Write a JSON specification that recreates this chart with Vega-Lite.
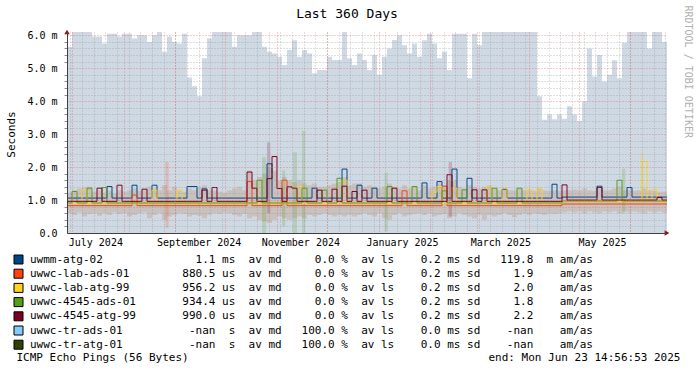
{
  "$schema": "https://vega.github.io/schema/vega-lite/v6.json",
  "width": 600,
  "height": 201,
  "autosize": {"type": "none"},
  "padding": {"left": 67, "top": 32, "right": 30, "bottom": 138},
  "background": "white",
  "title": {"text": "Last 360 Days", "font": "DejaVu Sans Mono", "fontSize": 13, "fontWeight": "normal", "color": "#000", "anchor": "middle", "frame": "group", "dx": -20, "offset": 0, "dy": 16},
  "config": {
    "view": {"stroke": null},
    "font": "DejaVu Sans Mono",
    "axis": {"labelFont": "DejaVu Sans Mono", "labelFontSize": 10, "labelColor": "#000", "titleFont": "DejaVu Sans Mono", "titleFontWeight": "normal", "titleColor": "#000", "titleFontSize": 11, "domainColor": "#404040", "tickColor": "#8f8f8f"}
  },
  "datasets": {
    "main": [
      {"t":"2024-06-28T00:00","bg":5.65,"lo":0.6,"hi":1.22,"a":1.06,"b":0.83,"c":0.89,"d":0.91,"e":0.96},
      {"t":"2024-07-01T00:00","bg":6.1,"lo":0.55,"hi":1.3,"a":1.06,"b":0.83,"c":0.89,"d":1.26,"e":0.96},
      {"t":"2024-07-04T00:00","bg":6.1,"lo":0.62,"hi":1.35,"a":1.06,"b":0.83,"c":0.89,"d":0.91,"e":0.96},
      {"t":"2024-07-07T00:00","bg":6.1,"lo":0.5,"hi":1.38,"a":1.06,"b":0.83,"c":1.31,"d":0.91,"e":0.96},
      {"t":"2024-07-10T00:00","bg":6.1,"lo":0.58,"hi":1.4,"a":1.06,"b":0.83,"c":0.89,"d":1.36,"e":0.96},
      {"t":"2024-07-13T00:00","bg":5.96,"lo":0.6,"hi":1.25,"a":1.06,"b":0.83,"c":0.89,"d":0.91,"e":0.96},
      {"t":"2024-07-16T00:00","bg":5.96,"lo":0.52,"hi":1.3,"a":1.06,"b":0.83,"c":0.89,"d":0.91,"e":1.36},
      {"t":"2024-07-19T00:00","bg":5.75,"lo":0.6,"hi":1.22,"a":1.06,"b":0.83,"c":0.89,"d":1.38,"e":0.96},
      {"t":"2024-07-22T00:00","bg":6.05,"lo":0.55,"hi":1.28,"a":1.41,"b":0.83,"c":0.89,"d":0.91,"e":0.96},
      {"t":"2024-07-25T00:00","bg":6.05,"lo":0.62,"hi":1.2,"a":1.06,"b":0.83,"c":0.89,"d":0.91,"e":0.96},
      {"t":"2024-07-28T00:00","bg":5.96,"lo":0.58,"hi":1.3,"a":1.06,"b":0.83,"c":0.89,"d":0.91,"e":1.45},
      {"t":"2024-07-31T00:00","bg":6.05,"lo":0.6,"hi":1.25,"a":1.06,"b":0.83,"c":0.89,"d":0.91,"e":0.96},
      {"t":"2024-08-03T00:00","bg":6.05,"lo":0.5,"hi":1.3,"a":1.06,"b":0.83,"c":0.89,"d":0.91,"e":0.96},
      {"t":"2024-08-06T00:00","bg":5.9,"lo":0.55,"hi":1.35,"a":1.45,"b":1.15,"c":0.89,"d":0.91,"e":0.96},
      {"t":"2024-08-09T00:00","bg":6.0,"lo":0.6,"hi":1.28,"a":1.06,"b":0.83,"c":0.89,"d":0.91,"e":0.96},
      {"t":"2024-08-12T00:00","bg":6.0,"lo":0.62,"hi":1.3,"a":1.06,"b":0.83,"c":0.89,"d":0.91,"e":1.33},
      {"t":"2024-08-15T00:00","bg":5.8,"lo":0.45,"hi":1.4,"a":1.06,"b":0.83,"c":0.89,"d":0.91,"e":0.96},
      {"t":"2024-08-18T00:00","bg":6.0,"lo":0.55,"hi":1.35,"a":1.45,"b":0.83,"c":1.3,"d":0.91,"e":0.96},
      {"t":"2024-08-21T00:00","bg":6.1,"lo":0.6,"hi":1.3,"a":1.06,"b":0.83,"c":0.89,"d":0.91,"e":0.96},
      {"t":"2024-08-24T00:00","bg":5.5,"lo":0.4,"hi":1.45,"a":1.06,"b":0.83,"c":0.89,"d":0.91,"e":0.96},
      {"t":"2024-08-27T00:00","bg":5.96,"lo":0.5,"hi":1.3,"a":1.06,"b":0.83,"c":0.89,"d":0.91,"e":0.96},
      {"t":"2024-08-30T00:00","bg":5.8,"lo":0.55,"hi":1.4,"a":1.06,"b":0.83,"c":0.89,"d":0.91,"e":0.96},
      {"t":"2024-09-02T00:00","bg":5.75,"lo":0.6,"hi":1.3,"a":1.06,"b":0.83,"c":1.3,"d":0.91,"e":0.96},
      {"t":"2024-09-05T00:00","bg":6.05,"lo":0.58,"hi":1.25,"a":1.06,"b":0.83,"c":0.89,"d":0.91,"e":0.96},
      {"t":"2024-09-08T00:00","bg":4.72,"lo":0.5,"hi":1.35,"a":1.41,"b":0.83,"c":0.89,"d":0.91,"e":0.96},
      {"t":"2024-09-11T00:00","bg":4.45,"lo":0.55,"hi":1.3,"a":1.41,"b":0.83,"c":0.89,"d":0.91,"e":0.96},
      {"t":"2024-09-14T00:00","bg":4.15,"lo":0.52,"hi":1.4,"a":1.06,"b":0.83,"c":0.89,"d":0.91,"e":0.96},
      {"t":"2024-09-17T00:00","bg":5.3,"lo":0.45,"hi":1.45,"a":1.34,"b":0.83,"c":0.89,"d":0.91,"e":1.3},
      {"t":"2024-09-20T00:00","bg":5.9,"lo":0.55,"hi":1.3,"a":1.06,"b":0.83,"c":0.89,"d":0.91,"e":0.96},
      {"t":"2024-09-23T00:00","bg":6.1,"lo":0.6,"hi":1.28,"a":1.06,"b":0.83,"c":0.89,"d":0.91,"e":1.38},
      {"t":"2024-09-26T00:00","bg":6.1,"lo":0.58,"hi":1.25,"a":1.06,"b":0.83,"c":0.89,"d":0.91,"e":0.96},
      {"t":"2024-09-29T00:00","bg":6.1,"lo":0.62,"hi":1.22,"a":1.06,"b":0.83,"c":0.89,"d":0.91,"e":0.96},
      {"t":"2024-10-02T00:00","bg":6.1,"lo":0.6,"hi":1.3,"a":1.06,"b":0.83,"c":0.89,"d":0.91,"e":0.96},
      {"t":"2024-10-05T00:00","bg":5.65,"lo":0.55,"hi":1.35,"a":1.06,"b":0.83,"c":0.89,"d":0.91,"e":0.96},
      {"t":"2024-10-08T00:00","bg":6.0,"lo":0.5,"hi":1.4,"a":1.06,"b":0.83,"c":0.89,"d":0.91,"e":0.96},
      {"t":"2024-10-11T00:00","bg":6.0,"lo":0.58,"hi":1.3,"a":1.06,"b":0.83,"c":0.89,"d":0.91,"e":0.96},
      {"t":"2024-10-14T00:00","bg":6.0,"lo":0.45,"hi":1.9,"a":1.06,"b":1.56,"c":0.89,"d":0.91,"e":1.85},
      {"t":"2024-10-17T00:00","bg":6.1,"lo":0.5,"hi":1.6,"a":1.06,"b":0.83,"c":0.89,"d":0.91,"e":1.36},
      {"t":"2024-10-20T00:00","bg":6.1,"lo":0.4,"hi":1.7,"a":1.06,"b":0.83,"c":0.89,"d":1.6,"e":0.96},
      {"t":"2024-10-23T00:00","bg":5.65,"lo":0.35,"hi":1.8,"a":1.06,"b":0.83,"c":0.89,"d":0.91,"e":0.96},
      {"t":"2024-10-26T00:00","bg":5.5,"lo":0.3,"hi":2.0,"a":2.1,"b":0.83,"c":0.89,"d":0.91,"e":1.65},
      {"t":"2024-10-29T00:00","bg":5.45,"lo":0.4,"hi":1.9,"a":1.06,"b":0.83,"c":0.89,"d":0.91,"e":2.32},
      {"t":"2024-11-01T00:00","bg":5.35,"lo":0.5,"hi":1.6,"a":1.06,"b":0.83,"c":0.89,"d":0.91,"e":1.35},
      {"t":"2024-11-04T00:00","bg":5.1,"lo":0.45,"hi":1.7,"a":1.06,"b":1.6,"c":0.89,"d":0.91,"e":0.96},
      {"t":"2024-11-07T00:00","bg":5.55,"lo":0.4,"hi":1.6,"a":1.06,"b":0.83,"c":0.89,"d":0.91,"e":1.4},
      {"t":"2024-11-10T00:00","bg":5.85,"lo":0.45,"hi":1.55,"a":1.06,"b":0.83,"c":0.89,"d":0.91,"e":1.36},
      {"t":"2024-11-13T00:00","bg":5.35,"lo":0.5,"hi":1.6,"a":1.06,"b":0.83,"c":1.4,"d":0.91,"e":0.96},
      {"t":"2024-11-16T00:00","bg":5.55,"lo":0.45,"hi":1.5,"a":1.06,"b":0.83,"c":0.89,"d":1.36,"e":0.96},
      {"t":"2024-11-19T00:00","bg":5.45,"lo":0.55,"hi":1.45,"a":1.06,"b":0.83,"c":0.89,"d":0.91,"e":0.96},
      {"t":"2024-11-22T00:00","bg":4.85,"lo":0.5,"hi":1.5,"a":1.36,"b":0.83,"c":0.89,"d":0.91,"e":0.96},
      {"t":"2024-11-25T00:00","bg":4.95,"lo":0.55,"hi":1.4,"a":1.06,"b":0.83,"c":0.89,"d":0.91,"e":1.3},
      {"t":"2024-11-28T00:00","bg":4.95,"lo":0.6,"hi":1.4,"a":1.06,"b":0.83,"c":0.89,"d":1.3,"e":0.96},
      {"t":"2024-12-01T00:00","bg":5.35,"lo":0.55,"hi":1.45,"a":1.06,"b":0.83,"c":0.89,"d":0.91,"e":0.96},
      {"t":"2024-12-04T00:00","bg":5.25,"lo":0.5,"hi":1.5,"a":1.06,"b":0.83,"c":0.89,"d":0.91,"e":1.33},
      {"t":"2024-12-07T00:00","bg":5.25,"lo":0.55,"hi":1.55,"a":1.06,"b":0.83,"c":0.89,"d":1.66,"e":0.96},
      {"t":"2024-12-10T00:00","bg":6.1,"lo":0.5,"hi":1.7,"a":1.94,"b":0.83,"c":1.6,"d":0.91,"e":1.42},
      {"t":"2024-12-13T00:00","bg":5.3,"lo":0.55,"hi":1.45,"a":1.06,"b":0.83,"c":0.89,"d":0.91,"e":0.96},
      {"t":"2024-12-16T00:00","bg":5.1,"lo":0.5,"hi":1.5,"a":1.06,"b":0.83,"c":0.89,"d":0.91,"e":1.26},
      {"t":"2024-12-19T00:00","bg":5.45,"lo":0.55,"hi":1.5,"a":1.45,"b":0.83,"c":0.89,"d":0.91,"e":0.96},
      {"t":"2024-12-22T00:00","bg":5.25,"lo":0.6,"hi":1.4,"a":1.06,"b":0.83,"c":0.89,"d":0.91,"e":1.3},
      {"t":"2024-12-25T00:00","bg":4.95,"lo":0.55,"hi":1.45,"a":1.06,"b":0.83,"c":0.89,"d":0.91,"e":0.96},
      {"t":"2024-12-28T00:00","bg":5.4,"lo":0.5,"hi":1.4,"a":1.36,"b":0.83,"c":0.89,"d":0.91,"e":0.96},
      {"t":"2024-12-31T00:00","bg":4.8,"lo":0.6,"hi":1.35,"a":1.06,"b":0.83,"c":0.89,"d":0.91,"e":0.96},
      {"t":"2025-01-03T00:00","bg":5.35,"lo":0.45,"hi":1.4,"a":1.06,"b":0.83,"c":0.89,"d":0.91,"e":0.96},
      {"t":"2025-01-06T00:00","bg":5.6,"lo":0.4,"hi":1.5,"a":1.06,"b":0.83,"c":0.89,"d":1.41,"e":0.96},
      {"t":"2025-01-09T00:00","bg":5.86,"lo":0.55,"hi":1.4,"a":1.06,"b":0.83,"c":0.89,"d":0.91,"e":1.36},
      {"t":"2025-01-12T00:00","bg":6.0,"lo":0.6,"hi":1.35,"a":1.06,"b":0.83,"c":0.89,"d":0.91,"e":0.96},
      {"t":"2025-01-15T00:00","bg":5.7,"lo":0.5,"hi":1.45,"a":1.06,"b":1.28,"c":0.89,"d":0.91,"e":0.96},
      {"t":"2025-01-18T00:00","bg":5.45,"lo":0.55,"hi":1.35,"a":1.06,"b":0.83,"c":0.89,"d":0.91,"e":0.96},
      {"t":"2025-01-21T00:00","bg":5.75,"lo":0.58,"hi":1.4,"a":1.06,"b":0.83,"c":0.89,"d":1.41,"e":0.96},
      {"t":"2025-01-24T00:00","bg":5.35,"lo":0.6,"hi":1.3,"a":1.06,"b":0.83,"c":0.89,"d":0.91,"e":0.96},
      {"t":"2025-01-27T00:00","bg":5.85,"lo":0.55,"hi":1.45,"a":1.52,"b":0.83,"c":0.89,"d":0.91,"e":0.96},
      {"t":"2025-01-30T00:00","bg":6.05,"lo":0.6,"hi":1.35,"a":1.06,"b":0.83,"c":0.89,"d":0.91,"e":0.96},
      {"t":"2025-02-02T00:00","bg":5.75,"lo":0.5,"hi":1.4,"a":1.06,"b":0.83,"c":1.24,"d":0.91,"e":0.96},
      {"t":"2025-02-05T00:00","bg":5.3,"lo":0.55,"hi":1.5,"a":1.56,"b":0.83,"c":1.41,"d":0.91,"e":0.96},
      {"t":"2025-02-08T00:00","bg":5.5,"lo":0.58,"hi":1.45,"a":1.06,"b":1.42,"c":0.89,"d":1.28,"e":0.96},
      {"t":"2025-02-11T00:00","bg":4.95,"lo":0.45,"hi":1.6,"a":1.06,"b":0.83,"c":0.89,"d":0.91,"e":1.77},
      {"t":"2025-02-14T00:00","bg":6.05,"lo":0.5,"hi":1.6,"a":1.94,"b":0.83,"c":1.36,"d":0.91,"e":0.96},
      {"t":"2025-02-17T00:00","bg":6.05,"lo":0.6,"hi":1.4,"a":1.06,"b":0.83,"c":0.89,"d":0.91,"e":0.96},
      {"t":"2025-02-20T00:00","bg":6.05,"lo":0.55,"hi":1.35,"a":1.06,"b":0.83,"c":0.89,"d":1.31,"e":0.96},
      {"t":"2025-02-23T00:00","bg":4.7,"lo":0.5,"hi":1.45,"a":1.66,"b":0.83,"c":0.89,"d":0.91,"e":0.96},
      {"t":"2025-02-26T00:00","bg":6.05,"lo":0.45,"hi":1.4,"a":1.06,"b":0.83,"c":0.89,"d":0.91,"e":1.31},
      {"t":"2025-03-01T00:00","bg":5.7,"lo":0.55,"hi":1.35,"a":1.06,"b":0.83,"c":0.89,"d":0.91,"e":0.96},
      {"t":"2025-03-04T00:00","bg":6.1,"lo":0.4,"hi":1.4,"a":1.06,"b":0.83,"c":0.89,"d":0.91,"e":1.31},
      {"t":"2025-03-07T00:00","bg":6.1,"lo":0.55,"hi":1.45,"a":1.06,"b":0.83,"c":1.41,"d":0.91,"e":0.96},
      {"t":"2025-03-10T00:00","bg":6.1,"lo":0.5,"hi":1.35,"a":1.06,"b":0.83,"c":0.89,"d":1.36,"e":0.96},
      {"t":"2025-03-13T00:00","bg":6.1,"lo":0.55,"hi":1.3,"a":1.06,"b":0.83,"c":0.89,"d":0.91,"e":0.96},
      {"t":"2025-03-16T00:00","bg":6.1,"lo":0.6,"hi":1.35,"a":1.33,"b":0.83,"c":1.36,"d":0.91,"e":0.96},
      {"t":"2025-03-19T00:00","bg":6.1,"lo":0.55,"hi":1.3,"a":1.06,"b":0.83,"c":0.89,"d":0.91,"e":0.96},
      {"t":"2025-03-22T00:00","bg":6.1,"lo":0.48,"hi":1.3,"a":1.06,"b":0.83,"c":0.89,"d":0.91,"e":0.96},
      {"t":"2025-03-25T00:00","bg":6.1,"lo":0.55,"hi":1.35,"a":1.06,"b":0.83,"c":0.89,"d":1.36,"e":0.96},
      {"t":"2025-03-28T00:00","bg":6.1,"lo":0.6,"hi":1.3,"a":1.06,"b":0.83,"c":0.89,"d":0.91,"e":0.96},
      {"t":"2025-03-31T00:00","bg":6.1,"lo":0.55,"hi":1.32,"a":1.06,"b":0.83,"c":1.31,"d":0.91,"e":0.96},
      {"t":"2025-04-03T00:00","bg":6.1,"lo":0.6,"hi":1.28,"a":1.06,"b":0.83,"c":0.89,"d":0.91,"e":0.96},
      {"t":"2025-04-06T00:00","bg":4.15,"lo":0.58,"hi":1.35,"a":1.06,"b":0.83,"c":1.36,"d":0.91,"e":0.96},
      {"t":"2025-04-09T00:00","bg":3.44,"lo":0.55,"hi":1.3,"a":1.06,"b":0.83,"c":0.89,"d":0.91,"e":0.96},
      {"t":"2025-04-12T00:00","bg":3.6,"lo":0.6,"hi":1.28,"a":1.06,"b":0.83,"c":0.89,"d":0.91,"e":0.96},
      {"t":"2025-04-15T00:00","bg":3.45,"lo":0.58,"hi":1.3,"a":1.48,"b":0.83,"c":0.89,"d":0.91,"e":0.96},
      {"t":"2025-04-18T00:00","bg":3.6,"lo":0.6,"hi":1.28,"a":1.06,"b":0.83,"c":0.89,"d":0.91,"e":0.96},
      {"t":"2025-04-21T00:00","bg":3.47,"lo":0.62,"hi":1.3,"a":1.09,"b":0.88,"c":0.95,"d":0.97,"e":1.46},
      {"t":"2025-04-24T00:00","bg":3.85,"lo":0.65,"hi":1.3,"a":1.09,"b":0.88,"c":0.95,"d":0.97,"e":1.0},
      {"t":"2025-04-27T00:00","bg":3.6,"lo":0.62,"hi":1.32,"a":1.09,"b":0.88,"c":0.95,"d":0.97,"e":1.0},
      {"t":"2025-04-30T00:00","bg":3.4,"lo":0.65,"hi":1.3,"a":1.09,"b":0.88,"c":0.95,"d":0.97,"e":1.0},
      {"t":"2025-05-03T00:00","bg":4.0,"lo":0.6,"hi":1.35,"a":1.09,"b":0.88,"c":0.95,"d":0.97,"e":1.0},
      {"t":"2025-05-06T00:00","bg":5.6,"lo":0.65,"hi":1.3,"a":1.09,"b":0.88,"c":0.95,"d":0.97,"e":1.0},
      {"t":"2025-05-09T00:00","bg":4.75,"lo":0.62,"hi":1.28,"a":1.09,"b":0.88,"c":0.95,"d":0.97,"e":1.0},
      {"t":"2025-05-12T00:00","bg":5.4,"lo":0.6,"hi":1.35,"a":1.42,"b":0.88,"c":0.95,"d":0.97,"e":1.38},
      {"t":"2025-05-15T00:00","bg":4.6,"lo":0.65,"hi":1.3,"a":1.09,"b":0.88,"c":0.95,"d":0.97,"e":1.0},
      {"t":"2025-05-18T00:00","bg":4.8,"lo":0.62,"hi":1.3,"a":1.09,"b":0.88,"c":0.95,"d":0.97,"e":1.0},
      {"t":"2025-05-21T00:00","bg":5.24,"lo":0.65,"hi":1.35,"a":1.09,"b":0.88,"c":0.95,"d":0.97,"e":1.0},
      {"t":"2025-05-24T00:00","bg":4.7,"lo":0.6,"hi":1.4,"a":1.09,"b":0.88,"c":0.95,"d":1.6,"e":1.0},
      {"t":"2025-05-27T00:00","bg":5.77,"lo":0.65,"hi":1.3,"a":1.09,"b":0.88,"c":0.95,"d":0.97,"e":1.0},
      {"t":"2025-05-30T00:00","bg":6.1,"lo":0.62,"hi":1.3,"a":1.38,"b":0.88,"c":0.95,"d":0.97,"e":1.0},
      {"t":"2025-06-02T00:00","bg":6.1,"lo":0.65,"hi":1.28,"a":1.09,"b":0.88,"c":0.95,"d":0.97,"e":1.0},
      {"t":"2025-06-05T00:00","bg":6.1,"lo":0.62,"hi":1.3,"a":1.09,"b":0.88,"c":0.95,"d":0.97,"e":1.0},
      {"t":"2025-06-08T00:00","bg":6.1,"lo":0.6,"hi":1.35,"a":1.09,"b":0.88,"c":2.17,"d":0.97,"e":1.0},
      {"t":"2025-06-11T00:00","bg":5.6,"lo":0.65,"hi":1.3,"a":1.09,"b":0.88,"c":0.95,"d":0.97,"e":1.0},
      {"t":"2025-06-14T00:00","bg":6.1,"lo":0.62,"hi":1.28,"a":1.09,"b":0.88,"c":1.31,"d":0.97,"e":1.0},
      {"t":"2025-06-17T00:00","bg":6.1,"lo":0.65,"hi":1.25,"a":1.09,"b":0.88,"c":0.95,"d":0.97,"e":1.08},
      {"t":"2025-06-20T00:00","bg":5.8,"lo":0.62,"hi":1.25,"a":1.09,"b":0.88,"c":0.95,"d":0.97,"e":1.0},
      {"t":"2025-06-23T00:00","bg":5.8,"lo":0.62,"hi":1.25,"a":1.09,"b":0.88,"c":0.95,"d":0.97,"e":1.0}
    ],
    "spikes": [
      {"t":"2024-08-26T00:00","t2":"2024-08-28T00:00","lo":0.16,"hi":2.15,"s":"uwwc-lab-ads-01"},
      {"t":"2024-10-23T00:00","t2":"2024-10-25T12:00","lo":0.0,"hi":2.3,"s":"uwwc-4545-ads-01"},
      {"t":"2024-10-26T00:00","t2":"2024-10-28T00:00","lo":0.6,"hi":2.75,"s":"uwwc-4545-atg-99"},
      {"t":"2024-11-04T00:00","t2":"2024-11-06T00:00","lo":0.2,"hi":1.9,"s":"uwwc-4545-ads-01"},
      {"t":"2024-11-10T12:00","t2":"2024-11-13T00:00","lo":0.0,"hi":2.45,"s":"uwwc-4545-ads-01"},
      {"t":"2024-11-16T00:00","t2":"2024-11-18T00:00","lo":0.0,"hi":3.1,"s":"uwwc-4545-ads-01"},
      {"t":"2025-01-04T12:00","t2":"2025-01-06T12:00","lo":0.05,"hi":1.83,"s":"uwwc-4545-ads-01"},
      {"t":"2025-02-12T00:00","t2":"2025-02-14T00:00","lo":0.5,"hi":2.15,"s":"uwwc-4545-atg-99"},
      {"t":"2025-05-27T00:00","t2":"2025-05-29T00:00","lo":0.6,"hi":1.95,"s":"uwwc-4545-ads-01"},
      {"t":"2025-06-07T00:00","t2":"2025-06-09T00:00","lo":0.9,"hi":2.45,"s":"uwwc-lab-atg-99"}
    ]
  },
  "layer": [
    {
      "data": {"name": "main"},
      "mark": {"type": "area", "interpolate": "step-after", "color": "#cfd9e4"},
      "encoding": {
        "x": {"field": "t", "type": "temporal",
          "scale": {"domain": [{"year": 2024, "month": 6, "date": 28}, {"year": 2025, "month": 6, "date": 23}]},
          "axis": {"orient": "bottom", "grid": true, "gridColor": "#8f8f8f", "gridOpacity": 0.55, "gridDash": [1, 2], "tickCount": {"interval": "week", "step": 1}, "labels": false, "ticks": false, "domain": false, "title": null, "zindex": 1}},
        "y": {"field": "bg", "type": "quantitative",
          "scale": {"domain": [0, 6.1], "nice": false, "zero": true},
          "axis": {"orient": "left", "grid": true, "gridColor": "#8f8f8f", "gridOpacity": 0.55, "gridDash": [1, 2], "values": [0.2, 0.4, 0.6, 0.8, 1.2, 1.4, 1.6, 1.8, 2.2, 2.4, 2.6, 2.8, 3.2, 3.4, 3.6, 3.8, 4.2, 4.4, 4.6, 4.8, 5.2, 5.4, 5.6, 5.8], "labels": false, "ticks": true, "tickSize": 3, "domain": false, "title": null, "zindex": 1}}
      }
    },
    {
      "data": {"name": "main"},
      "mark": {"type": "area", "interpolate": "step-after", "color": "#b88a62", "opacity": 0.3},
      "encoding": {
        "x": {"field": "t", "type": "temporal",
          "axis": {"orient": "bottom", "grid": true, "gridColor": "#e96060", "gridOpacity": 0.65, "gridDash": [1, 2], "tickCount": {"interval": "month", "step": 1}, "labels": false, "ticks": false, "domain": false, "zindex": 1,
            "title": "ICMP Echo Pings (56 Bytes)", "titleX": -51, "titleY": 124, "titleAlign": "left", "titleBaseline": "middle", "titleFontSize": 11}},
        "y": {"field": "lo", "type": "quantitative",
          "axis": {"orient": "left", "grid": true, "gridColor": "#e96060", "gridOpacity": 0.65, "gridDash": [1, 2], "values": [0, 1, 2, 3, 4, 5, 6], "ticks": false, "labelPadding": 10, "labelFontSize": 10,
            "labelExpr": "datum.value == 0 ? '0.0' : format(datum.value, '.1f') + ' m'", "domain": true, "zindex": 1,
            "title": "Seconds", "titleX": -56, "titleY": 102, "titleAngle": -90, "titleAlign": "center", "titleBaseline": "middle", "titleFontSize": 11}},
        "y2": {"field": "hi"}
      }
    },
    {
      "data": {"name": "spikes"},
      "mark": {"type": "bar", "opacity": 0.2},
      "encoding": {
        "x": {"field": "t", "type": "temporal", "axis": null},
        "x2": {"field": "t2"},
        "y": {"field": "lo", "type": "quantitative", "axis": null},
        "y2": {"field": "hi"},
        "fill": {"field": "s", "type": "nominal",
          "scale": {"domain": ["uwmm-atg-02", "uwwc-lab-ads-01", "uwwc-lab-atg-99", "uwwc-4545-ads-01", "uwwc-4545-atg-99", "uwwc-tr-ads-01", "uwwc-tr-atg-01"],
                    "range": ["#004586", "#ff420e", "#ffd320", "#579d1c", "#7e0021", "#83caff", "#314004"]},
          "legend": {"orient": "none", "legendX": -54, "legendY": 222, "direction": "vertical", "title": null, "padding": 0,
            "symbolType": "square", "symbolSize": 81, "symbolStrokeColor": "#000", "symbolStrokeWidth": 1, "symbolOpacity": 1,
            "labelFont": "DejaVu Sans Mono", "labelFontSize": 11, "labelColor": "#000", "labelOffset": 6, "rowPadding": 1.2, "labelLimit": 1000,
            "labelExpr": "replace(datum.label == 'uwmm-atg-02' ? 'uwmm-atg-02              1.1 ms  av md     0.0 %  av ls    0.2 ms sd   119.8  m am/as' : datum.label == 'uwwc-lab-ads-01' ? 'uwwc-lab-ads-01        880.5 us  av md     0.0 %  av ls    0.2 ms sd     1.9    am/as' : datum.label == 'uwwc-lab-atg-99' ? 'uwwc-lab-atg-99        956.2 us  av md     0.0 %  av ls    0.2 ms sd     2.0    am/as' : datum.label == 'uwwc-4545-ads-01' ? 'uwwc-4545-ads-01       934.4 us  av md     0.0 %  av ls    0.2 ms sd     1.8    am/as' : datum.label == 'uwwc-4545-atg-99' ? 'uwwc-4545-atg-99       990.0 us  av md     0.0 %  av ls    0.2 ms sd     2.2    am/as' : datum.label == 'uwwc-tr-ads-01' ? 'uwwc-tr-ads-01          -nan  s  av md   100.0 %  av ls    0.0 ms sd    -nan    am/as' : 'uwwc-tr-atg-01          -nan  s  av md   100.0 %  av ls    0.0 ms sd    -nan    am/as', regexp(' ', 'g'), '\u00a0')"}}
      }
    },
    {
      "data": {"name": "main"},
      "transform": [{"fold": ["a", "b", "c", "d", "e"], "as": ["k", "m"]}],
      "mark": {"type": "line", "interpolate": "step-after", "strokeWidth": 1},
      "encoding": {
        "x": {"field": "t", "type": "temporal",
          "axis": {"orient": "bottom", "grid": false, "ticks": false, "domain": true, "labelPadding": 4, "labelFontSize": 10, "format": "%B %Y", "labelOverlap": false, "labelFlush": false,
            "values": [{"year": 2024, "month": 7, "date": 15}, {"year": 2024, "month": 9, "date": 15}, {"year": 2024, "month": 11, "date": 15}, {"year": 2025, "month": 1, "date": 15}, {"year": 2025, "month": 3, "date": 15}, {"year": 2025, "month": 5, "date": 15}],
            "zindex": 1,
            "title": "end: Mon Jun 23 14:56:53 2025", "titleX": 613, "titleY": 124, "titleAlign": "right", "titleBaseline": "middle", "titleFontSize": 11}},
        "y": {"field": "m", "type": "quantitative",
          "axis": {"orient": "right", "grid": false, "labels": false, "ticks": false, "domain": false,
            "title": "RRDTOOL / TOBI OETIKER", "titleAngle": 90, "titleX": 20, "titleY": -27, "titleAlign": "left", "titleBaseline": "middle", "titleColor": "#b0b0b0", "titleFontSize": 10}},
        "stroke": {"field": "k", "type": "nominal", "scale": {"domain": ["a", "b", "c", "d", "e"], "range": ["#004586", "#ff420e", "#ffd320", "#579d1c", "#7e0021"]}, "legend": null}
      }
    },
    {
      "data": {"values": [{"t": "2024-06-28T00:00", "v": 6.1}]},
      "mark": {"type": "point", "shape": "triangle-up", "filled": true, "color": "#a01010", "opacity": 1, "size": 30, "dy": -4},
      "encoding": {
        "x": {"field": "t", "type": "temporal", "axis": null},
        "y": {"field": "v", "type": "quantitative", "axis": null}
      }
    },
    {
      "data": {"values": [{"t": "2025-06-23T00:00", "v": 0}]},
      "mark": {"type": "point", "shape": "triangle-right", "filled": true, "color": "#a01010", "opacity": 1, "size": 30, "dx": 5},
      "encoding": {
        "x": {"field": "t", "type": "temporal", "axis": null},
        "y": {"field": "v", "type": "quantitative", "axis": null}
      }
    }
  ],
  "resolve": {"axis": {"x": "independent", "y": "independent"}}
}
